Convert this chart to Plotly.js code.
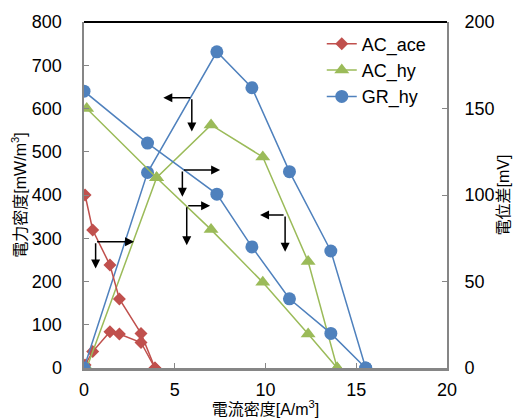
<!DOCTYPE html>
<html>
<head>
<meta charset="utf-8">
<script src="https://cdn.plot.ly/plotly-3.0.1.min.js"></script>
<style>html,body{margin:0;padding:0;background:#fff;}#chart{width:515px;height:418px;}</style>
</head>
<body>
<div id="chart"></div>
<script>
// Series names
const seriesNames = ["AC_ace", "AC_hy", "GR_hy"];
// Current density [A/m3]
const xAce = [0.06, 0.48, 1.43, 1.95, 3.14, 3.91];
const xAcHy = [0.15, 4.0, 7.0, 9.85, 12.35, 13.95];
const xGrHy = [0.0, 3.5, 7.32, 9.25, 11.32, 13.6, 15.52];
// Power density [mW/m3] (left axis)
const pAce = [7, 38, 84, 78.6, 59, 0];
const pAcHy = [0, 440, 562, 488, 246, 0];
const pGrHy = [0, 452, 731, 648, 454, 270.5, 0];
// Potential [mV] (right axis)
const vAce = [100, 79.75, 59.5, 39.9, 20, 0];
const vAcHy = [150, 110, 80, 49.5, 19.7, 0];
const vGrHy = [160, 130, 100.5, 70, 40, 20, 0];

const colors = ["#C0504D", "#9BBB59", "#4F81BD"];
const symbols = ["diamond", "triangle-up", "circle"];
const sizes = [10, 13, 13];
const xs = [xAce, xAcHy, xGrHy];
const ps = [pAce, pAcHy, pGrHy];
const vs = [vAce, vAcHy, vGrHy];

const traces = [];
for (let i = 0; i < 3; i++) {
  traces.push({
    x: xs[i], y: vs[i], yaxis: "y2", type: "scatter", mode: "lines+markers",
    name: seriesNames[i], showlegend: false, legendgroup: seriesNames[i],
    line: {color: colors[i], width: 1.5},
    marker: {color: colors[i], symbol: symbols[i], size: sizes[i]}
  });
}
for (let i = 0; i < 3; i++) {
  traces.push({
    x: xs[i], y: ps[i], yaxis: "y", type: "scatter", mode: "lines+markers",
    name: seriesNames[i], showlegend: true, legendgroup: seriesNames[i],
    line: {color: colors[i], width: 1.5},
    marker: {color: colors[i], symbol: symbols[i], size: sizes[i]}
  });
}

function arrow(cx, cy, tx, ty) {
  return {x: tx, y: ty, ax: cx, ay: cy, xref: "x", yref: "y", axref: "x", ayref: "y",
    text: "", showarrow: true, arrowhead: 2, arrowsize: 1.2, arrowwidth: 1.5,
    arrowcolor: "#000", standoff: 0, startstandoff: 0};
}
const annotations = [];
// [cornerX, cornerY, horizontalEndX, verticalEndY]
const arrowDefs = [[5.94, 625, 4.37, 547], [5.42, 458, 7.5, 396], [5.66, 375, 6.95, 284], [11.08, 354, 9.7, 269], [0.64, 292, 2.76, 230]];
arrowDefs.forEach(a => {
  annotations.push(arrow(a[0], a[1], a[2], a[1]));
  annotations.push(arrow(a[0], a[1], a[0], a[3]));
});

const tickFont = {family: "Liberation Sans, Arial, sans-serif", size: 18, color: "#000"};
const titleFont = {family: "Liberation Sans, Noto Sans CJK JP, sans-serif", size: 16, color: "#000"};

const layout = {
  width: 515, height: 418,
  margin: {l: 84, r: 68, t: 22, b: 50, pad: 0},
  paper_bgcolor: "#fff", plot_bgcolor: "#fff",
  showlegend: true,
  legend: {x: 0.655, y: 0.99, xanchor: "left", yanchor: "top", bgcolor: "rgba(0,0,0,0)",
    font: {family: "Liberation Sans, Arial, sans-serif", size: 18, color: "#000"}, tracegroupgap: 0},
  xaxis: {range: [0, 20], dtick: 5, tick0: 0, showgrid: false, zeroline: false,
    showline: true, linecolor: "#868686", linewidth: 2.5, ticks: "inside", ticklen: 5, tickcolor: "#868686", tickwidth: 1,
    tickfont: tickFont, ticklabelstandoff: 4,
    title: {text: "電流密度[A/m<sup>3</sup>]", font: titleFont, standoff: 4}},
  yaxis: {range: [0, 800], dtick: 100, tick0: 0, showgrid: false, zeroline: false,
    showline: true, linecolor: "#868686", linewidth: 2.5, ticks: "inside", ticklen: 5, tickcolor: "#868686", tickwidth: 1,
    tickfont: tickFont, ticklabelstandoff: 16,
    title: {text: "電力密度[mW/m<sup>3</sup>]", font: titleFont, standoff: 2}},
  yaxis2: {range: [0, 200], dtick: 50, tick0: 0, overlaying: "y", side: "right", showgrid: false, zeroline: false,
    showline: true, linecolor: "#868686", linewidth: 2, ticks: "inside", ticklen: 5, tickcolor: "#868686", tickwidth: 1,
    tickfont: tickFont, ticklabelstandoff: 12,
    title: {text: "電位差[mV]", font: titleFont, standoff: 4}},
  shapes: [{type: "line", xref: "paper", yref: "paper", x0: 0, x1: 1, y0: 1, y1: 1, line: {color: "#000", width: 2}}],
  annotations: annotations
};

Plotly.newPlot("chart", traces, layout, {displayModeBar: false, staticPlot: true});
</script>
</body>
</html>
